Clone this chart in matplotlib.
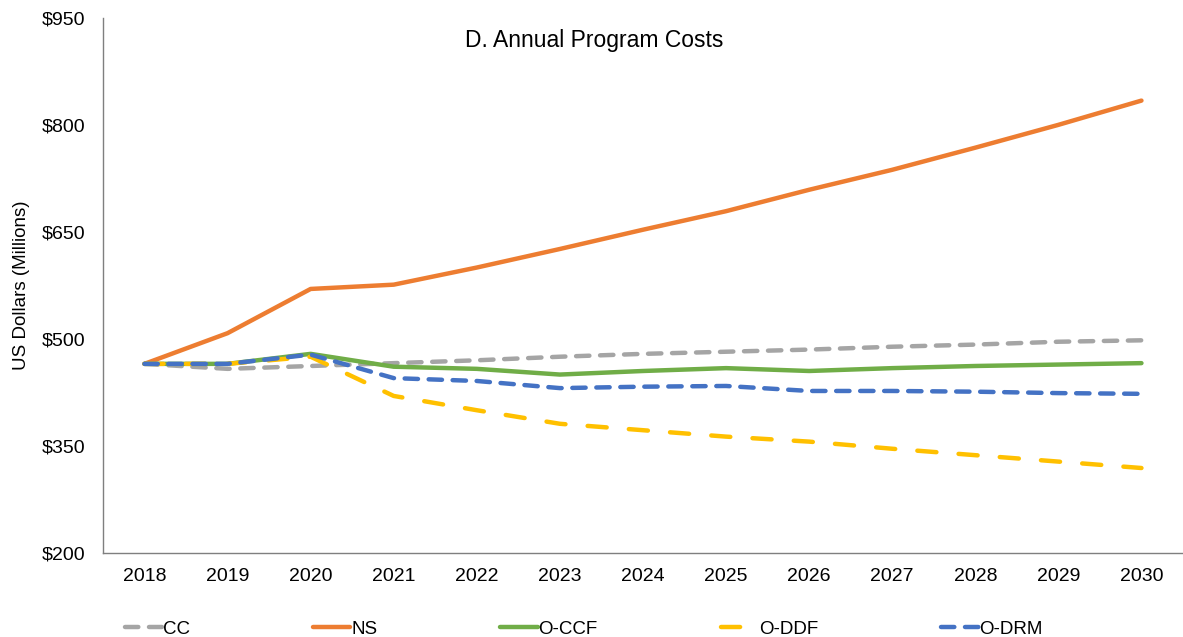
import matplotlib.pyplot as plt
import numpy as np

plt.rcParams['font.family'] = ['Liberation Sans', 'DejaVu Sans']

years = list(range(2018, 2031))
cc = [465, 458, 462, 466, 470, 475, 479, 482, 485, 489, 492, 496, 498]
ns = [465, 508, 570, 576, 600, 626, 653, 679, 709, 737, 768, 800, 834]
o_ccf = [465, 465, 479, 461, 458, 450, 455, 459, 455, 459, 462, 464, 466]
o_ddf = [465, 465, 475, 420, 400, 381, 372, 363, 356, 346, 337, 328, 319]
o_drm = [465, 465, 478, 445, 441, 431, 433, 434, 427, 427, 426, 424, 423]

yticks = [200, 350, 500, 650, 800, 950]

fig = plt.figure(figsize=(11.83, 6.37), dpi=100)
ax = fig.add_axes([0.087, 0.132, 0.913, 0.840])

lw = 3.2
ax.plot(years, cc, color='#A5A5A5', lw=lw, dashes=(3.0, 2.4), dash_capstyle='round', label='CC')
ax.plot(years, ns, color='#ED7D31', lw=lw, solid_capstyle='round', label='NS')
ax.plot(years, o_ccf, color='#70AD47', lw=lw, solid_capstyle='round', label='O-CCF')
ax.plot(years, o_ddf, color='#FFC000', lw=lw, dashes=(4.3, 5.0), dash_capstyle='round', label='O-DDF')
ax.plot(years, o_drm, color='#4472C4', lw=lw, dashes=(3.0, 2.4), dash_capstyle='round', label='O-DRM')

ax.set_xlim(2017.5, 2030.5)
ax.set_ylim(200, 950)
ax.set_xticks(years)
ax.set_yticks(yticks)
ax.set_yticklabels(['$%d' % v for v in yticks])
ax.tick_params(axis='both', length=0, labelsize=14, colors='black')
ax.tick_params(axis='y', pad=13)
ax.tick_params(axis='x', pad=11)

for s in ['top', 'right']:
    ax.spines[s].set_visible(False)
for s in ['left', 'bottom']:
    ax.spines[s].set_color('#7F7F7F')
    ax.spines[s].set_linewidth(1.0)

ax.set_ylabel('US Dollars (Millions)', fontsize=13.5, labelpad=8)

fig.text(0.502, 0.936, 'D. Annual Program Costs', ha='center', va='center', fontsize=16.5)

ax.legend(loc='upper left', bbox_to_anchor=(0.020, -0.127), ncol=5, frameon=False,
          fontsize=13.5, handlelength=2.0, handletextpad=0.05, columnspacing=6.55,
          borderaxespad=0, borderpad=0)

fig.savefig('out.png', dpi=100)
